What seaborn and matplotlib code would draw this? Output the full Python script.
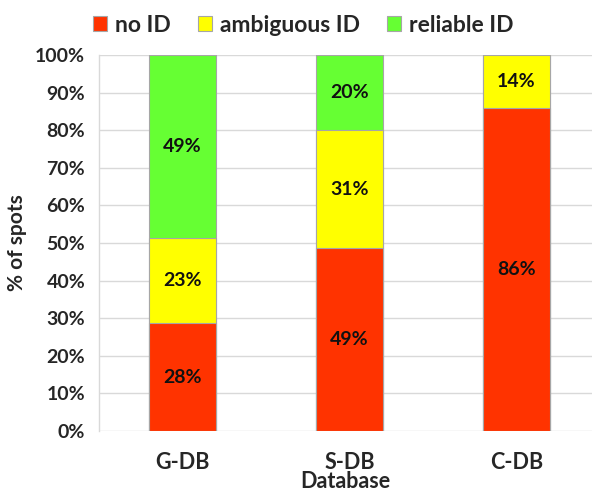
import matplotlib
matplotlib.use("Agg")
import matplotlib.pyplot as plt
from matplotlib.patches import Patch
import seaborn as sns
import pandas as pd
import numpy as np

categories = ["G-DB", "S-DB", "C-DB"]
no_id = [28.6, 48.7, 85.8]
ambiguous_id = [22.7, 31.3, 14.2]
reliable_id = [48.7, 20.0, 0.0]
labels_no = ["28%", "49%", "86%"]
labels_amb = ["23%", "31%", "14%"]
labels_rel = ["49%", "20%", ""]
yticks = [0, 10, 20, 30, 40, 50, 60, 70, 80, 90, 100]
series_names = ["no ID", "ambiguous ID", "reliable ID"]
colors = ["#FF3300", "#FFFF00", "#66FF33"]

sns.set_style("white")
plt.rcParams["font.family"] = ["Lato", "DejaVu Sans"]
plt.rcParams["font.weight"] = "bold"

df = pd.DataFrame({"cat": categories, "no": no_id, "amb": ambiguous_id, "rel": reliable_id})
df["c1"] = df["no"]
df["c2"] = df["no"] + df["amb"]
df["c3"] = df["no"] + df["amb"] + df["rel"]

fig = plt.figure(figsize=(5.92, 4.94), dpi=100)
ax = fig.add_axes([99 / 592, 1 - 431 / 494, 1 - 99 / 592, (431 - 55) / 494])

edge = "#A6A6A6"
for col, c in [("c3", colors[2]), ("c2", colors[1]), ("c1", colors[0])]:
    sns.barplot(data=df, x="cat", y=col, color=c, width=0.4, ax=ax,
                edgecolor=edge, linewidth=0.8, saturation=1, zorder=3)

for i in range(len(categories)):
    segs = [(0, no_id[i], labels_no[i]),
            (no_id[i], no_id[i] + ambiguous_id[i], labels_amb[i]),
            (no_id[i] + ambiguous_id[i], no_id[i] + ambiguous_id[i] + reliable_id[i], labels_rel[i])]
    for lo, hi, lab in segs:
        if lab:
            ax.text(i, (lo + hi) / 2, lab, ha="center", va="center",
                    fontsize=14, fontweight="bold", color="#111111", zorder=5)

ax.set_ylim(0, 100)
ax.set_xlim(-0.5, 2.5 - 8 / 167)
ax.set_yticks(yticks)
ax.set_yticklabels([f"{v}%" for v in yticks])
ax.yaxis.grid(True, color="#D9D9D9", linewidth=1.0, zorder=0)
ax.set_axisbelow(True)
for s in ["top", "right", "bottom"]:
    ax.spines[s].set_visible(False)
ax.spines["left"].set_color("#D9D9D9")
ax.spines["left"].set_linewidth(1.0)
ax.tick_params(axis="y", length=6, color="#D9D9D9", labelsize=14, pad=4)
ax.set_xticks([0.5, 1.5], minor=True)
ax.tick_params(axis="x", which="major", length=0, labelsize=15.5, pad=15)
ax.tick_params(axis="x", which="minor", length=8, color="#D9D9D9")
for t in ax.get_xticklabels() + ax.get_yticklabels():
    t.set_fontweight("bold")
ax.set_xlabel("Database", fontsize=15.5, fontweight="bold", labelpad=-1)
ax.set_ylabel("% of spots", fontsize=15, fontweight="bold", labelpad=6)

handles = [Patch(facecolor=c, edgecolor=edge, linewidth=0.8) for c in colors]
fig.legend(handles, series_names, loc="center", bbox_to_anchor=(0.512, 0.949),
           ncol=3, frameon=False, handlelength=0.6, handleheight=0.6,
           handletextpad=0.35, columnspacing=1.2, prop={"weight": "bold", "size": 16.5})

fig.savefig("out.png", dpi=100)
